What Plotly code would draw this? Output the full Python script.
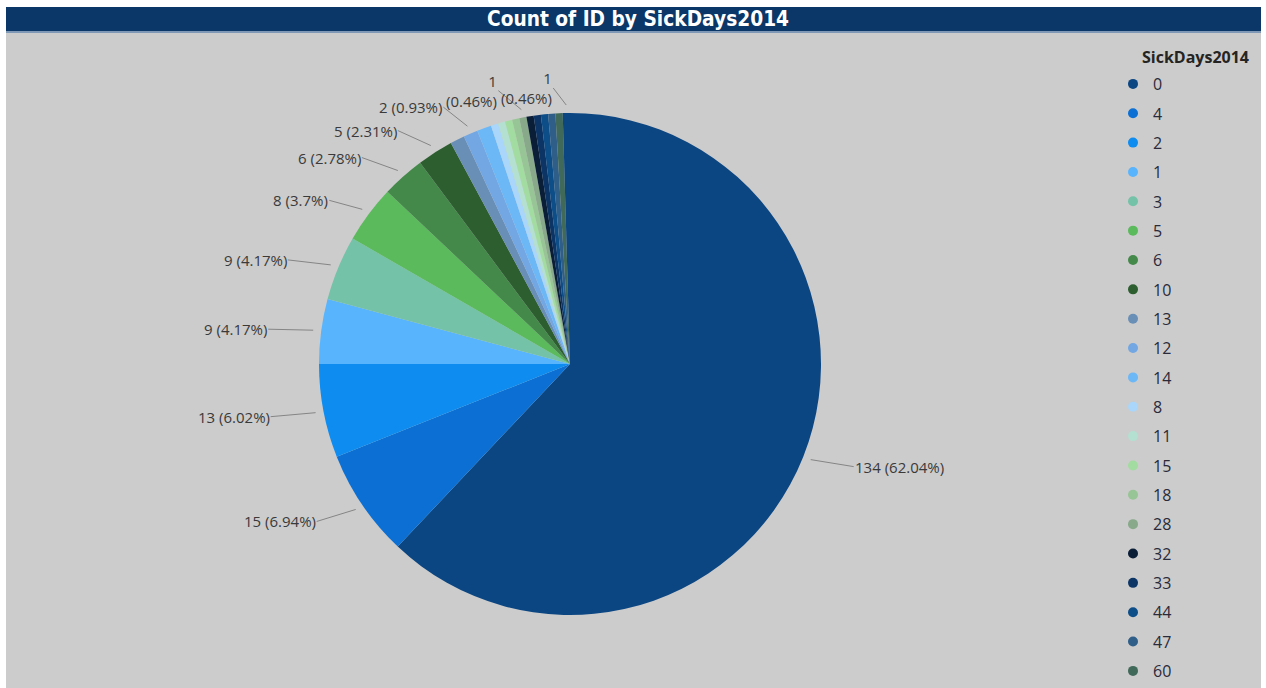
import numpy as np
import plotly.graph_objects as go

# ---- data -------------------------------------------------------------
sick_days = ["0", "4", "2", "1", "3", "5", "6", "10", "13", "12", "14",
             "8", "11", "15", "18", "28", "32", "33", "44", "47", "60", "66"]
id_counts = [134, 15, 13, 9, 9, 8, 6, 5, 2, 2, 2,
             1, 1, 1, 1, 1, 1, 1, 1, 1, 1, 1]

# theme palette (wraps round after 21 colours)
palette = ["#0B4682", "#0B6FD3", "#0E8CF0", "#58B4FC", "#74C2A8", "#5ABA5C",
           "#44894A", "#2D5E30", "#6A8FB6", "#72A7E4", "#6CB8F7", "#A9D6FA",
           "#B3E0D1", "#A3DCA0", "#98C595", "#88A98A", "#0B1E38", "#0C3566",
           "#0E4E88", "#2F5F88", "#40695A"]
slice_colors = [palette[i % len(palette)] for i in range(len(sick_days))]

# slices that carry a data label: index -> (dx, dy, anchor, wrap)
labelled = {0: (43, 7, "left", False), 1: (-39, 12, "right", False),
            2: (-45, 4, "right", False), 3: (-45, -1, "right", False),
            4: (-43, -5, "right", False), 5: (-33, -9, "right", False),
            6: (-36, -13, "right", False), 7: (-33, -15, "right", False),
            9: (-24, -19, "right", False), 15: (-23, -19, "right", True),
            21: (-13, -17, "right", True)}
legend_rows = 21

# ---- geometry -----------------------------------------------------------
W, H = 1266, 688
M_L, M_R, M_T, M_B = 6, 5, 33, 0
PW, PH = W - M_L - M_R, H - M_T - M_B
CX, CY, R = 570, 364, 251
R_TIP = R + 8


def paper(x, y):
    return (x - M_L) / PW, (H - M_B - y) / PH


dom_x = [(CX - R - M_L) / PW, (CX + R - M_L) / PW]
dom_y = [(H - M_B - (CY + R)) / PH, (H - M_B - (CY - R)) / PH]

fig = go.Figure()
fig.add_trace(go.Pie(
    labels=sick_days, values=id_counts, sort=False, direction="clockwise",
    rotation=0, marker=dict(colors=slice_colors, line=dict(width=0)),
    textinfo="none", showlegend=False, domain=dict(x=dom_x, y=dom_y),
    hovertemplate="SickDays2014: %{label}<br>Count of ID: %{value}<extra></extra>",
))

# legend entries
for i in range(legend_rows):
    fig.add_trace(go.Scatter(
        x=[None], y=[None], mode="markers", name=sick_days[i],
        legendgroup=sick_days[i],
        marker=dict(color=slice_colors[i], size=10, symbol="circle"),
        hoverinfo="skip",
    ))

# data labels with leader lines
total = float(sum(id_counts))
counts = np.array(id_counts, dtype=float)
mid = np.cumsum(counts) - counts / 2
theta = np.deg2rad(mid / total * 360.0)
annotations = []
for i, (dx, dy, anchor, wrap) in labelled.items():
    tx = CX + R_TIP * np.sin(theta[i])
    ty = CY - R_TIP * np.cos(theta[i])
    px_, py_ = paper(tx, ty)
    pct = f"{id_counts[i] / total * 100:.2f}".rstrip("0").rstrip(".")
    sep = "<br>" if wrap else " "
    annotations.append(dict(
        x=px_, y=py_, xref="paper", yref="paper",
        text=f"{id_counts[i]}{sep}({pct}%)",
        showarrow=True, arrowhead=0, arrowwidth=1, arrowcolor="#858585",
        ax=dx, ay=dy, xanchor=anchor, yanchor="middle", align=anchor,
        standoff=0, borderpad=0,
        font=dict(family="Open Sans", size=15, color="#3A3A3A"),
    ))

# chart title and legend title
tx, ty = paper(638, 19.5)
annotations.append(dict(
    x=tx, y=ty, xref="paper", yref="paper", showarrow=False,
    text="<b>Count of ID by SickDays2014</b>", xanchor="center", yanchor="middle",
    font=dict(family="DejaVu Sans Condensed", size=20.7, color="#FFFFFF"),
))
lx, ly = paper(1140, 57)
annotations.append(dict(
    x=lx, y=ly, xref="paper", yref="paper", showarrow=False,
    text="<b>SickDays2014</b>", xanchor="left", yanchor="middle",
    font=dict(family="Open Sans", size=16, color="#252423"),
))

# background panel and title band
shapes = [
    dict(type="rect", xref="paper", yref="paper", x0=0, x1=1, y0=0, y1=1,
         fillcolor="#CCCCCC", line=dict(width=0), layer="below"),
    dict(type="rect", xref="paper", yref="paper", x0=0, x1=1,
         y0=paper(0, 32)[1], y1=paper(0, 7)[1],
         fillcolor="#0A3767", line=dict(width=0), layer="below"),
    dict(type="rect", xref="paper", yref="paper", x0=0, x1=1,
         y0=paper(0, 33)[1], y1=paper(0, 31)[1],
         fillcolor="#7F98B6", line=dict(width=0), layer="below"),
]

leg_x, leg_y = paper(1113, 67)
fig.update_layout(
    width=W, height=H, margin=dict(l=M_L, r=M_R, t=M_T, b=M_B),
    paper_bgcolor="#FFFFFF", plot_bgcolor="rgba(0,0,0,0)",
    xaxis=dict(visible=False), yaxis=dict(visible=False),
    shapes=shapes, annotations=annotations,
    legend=dict(x=leg_x, y=leg_y, xanchor="left", yanchor="top",
                orientation="v", traceorder="grouped", tracegroupgap=5.55,
                bgcolor="rgba(0,0,0,0)", borderwidth=0, itemclick=False,
                font=dict(family="Open Sans", size=16, color="#2A2A3A")),
    font=dict(family="Open Sans"),
)

fig.write_html("out.html")
